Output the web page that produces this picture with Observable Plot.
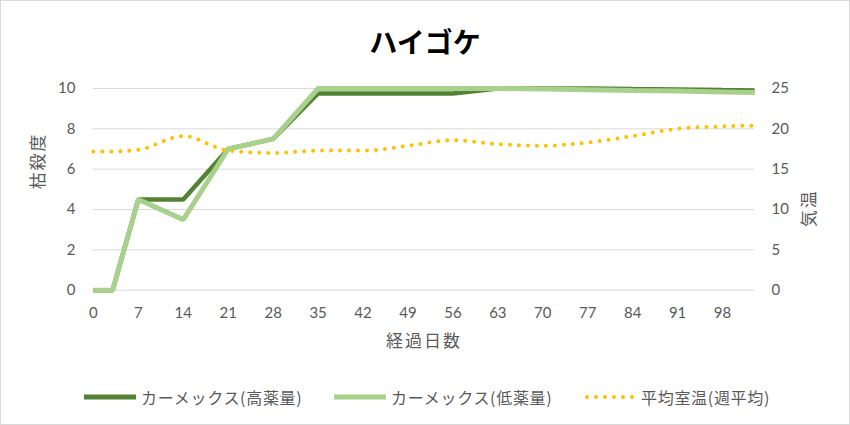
<!DOCTYPE html>
<html><head><meta charset="utf-8">
<script src="https://cdn.jsdelivr.net/npm/d3@7"></script>
<script src="https://cdn.jsdelivr.net/npm/@observablehq/plot@0.6"></script>
<style>
body{margin:0;background:#fff;font-family:"Noto Sans CJK JP","Noto Sans",sans-serif;}
#chart{position:relative;width:850px;height:425px;box-sizing:border-box;border:1px solid #d9d9d9;background:#fff;overflow:hidden}
#title{position:absolute;left:-1px;top:20px;width:850px;text-align:center;font-size:28px;font-weight:bold;color:#000;line-height:40px}
#plot{position:absolute;left:-1px;top:59px}
.leg{position:absolute;top:386px;height:20px;display:flex;align-items:center;font-size:16px;letter-spacing:0.7px;color:#595959;white-space:nowrap}
.leg svg{margin-right:5px}
</style></head><body>
<div id="chart">
  <div id="title"></div>
  <div id="plot"></div>
  <div id="legend"></div>
</div>
<script>
// ---- data ----
const chartTitle = "ハイゴケ";
const xLabel = "経過日数";
const yLeftLabel = "枯殺度";
const yRightLabel = "気温";
const seriesNames = ["カーメックス(高薬量)", "カーメックス(低薬量)", "平均室温(週平均)"];
const seriesColors = ["#548235", "#a9d18e", "#ffc000"];

const days      = [0, 3, 7, 14, 21, 28, 35, 42, 49, 56, 63, 70, 77, 84, 91, 98, 103];
const highDose  = [0, 0, 4.5, 4.5, 7, 7.5, 9.75, 9.75, 9.75, 9.75, 10, 10, 10, 9.97, 9.95, 9.92, 9.9];
const lowDose   = [0, 0, 4.5, 3.5, 7, 7.5, 10, 10, 10, 10, 10, 9.97, 9.94, 9.9, 9.87, 9.83, 9.8];
const tempWeekly= [17.2, 17.2, 17.4, 19.1, 17.3, 17.0, 17.3, 17.3, 17.9, 18.6, 18.1, 17.9, 18.3, 19.1, 20.0, 20.3, 20.4];

const xTicks = [0, 7, 14, 21, 28, 35, 42, 49, 56, 63, 70, 77, 84, 91, 98];
const xDomain = [0, 103];
const yLeftTicks = [0, 2, 4, 6, 8, 10];
const yLeftMax = 10;
const yRightTicks = [0, 5, 10, 15, 20, 25];
const yRightMax = 25;

// ---- build ----
const rows = days.map((d, i) => ({day: d, high: highDose[i], low: lowDose[i], temp: tempWeekly[i]}));
const toLeft = t => t * yLeftMax / yRightMax;

const tickFont = "Lato, 'Noto Sans', sans-serif";
const jpFont = "'Noto Sans CJK JP', sans-serif";

document.getElementById("title").textContent = chartTitle;

const plot = Plot.plot({
  width: 850, height: 300,
  marginTop: 28, marginBottom: 70, marginLeft: 93, marginRight: 95,
  style: {fontFamily: tickFont, fontSize: "15px", color: "#595959", background: "transparent", overflow: "visible"},
  x: {domain: xDomain},
  y: {domain: [0, yLeftMax]},
  marks: [
    Plot.gridY(yLeftTicks, {stroke: "#d9d9d9", strokeOpacity: 1, strokeWidth: 1}),
    Plot.axisX(xTicks, {tickSize: 0, tickPadding: 17, label: null, fill: "#595959"}),
    Plot.axisY(yLeftTicks, {anchor: "left", tickSize: 0, tickPadding: 18, label: null, fill: "#595959"}),
    Plot.axisY(yRightTicks.map(toLeft), {anchor: "right", tickSize: 0, tickPadding: 17, label: null, fill: "#595959",
      tickFormat: d => String(Math.round(d * yRightMax / yLeftMax))}),
    Plot.line(rows, {x: "day", y: "high", stroke: seriesColors[0], strokeWidth: 4.5, strokeLinejoin: "miter", strokeLinecap: "butt"}),
    Plot.line(rows, {x: "day", y: "low", stroke: seriesColors[1], strokeWidth: 5, strokeLinejoin: "miter", strokeLinecap: "butt"}),
    Plot.line(rows, {x: "day", y: d => toLeft(d.temp), stroke: seriesColors[2], strokeWidth: 4, strokeLinecap: "round", strokeDasharray: "0 9", curve: "monotone-x"}),
    Plot.text([xLabel], {text: d => d, frameAnchor: "bottom", dy: 57, fontFamily: jpFont, fontSize: 17, fill: "#595959"}),
    Plot.text([yLeftLabel], {text: d => d, frameAnchor: "left", dx: -55, rotate: -90, fontFamily: jpFont, fontSize: 17, fill: "#595959"}),
    Plot.text([yRightLabel], {text: d => d, frameAnchor: "right", dx: 55, rotate: -90, fontFamily: jpFont, fontSize: 17, fill: "#595959"})
  ]
});
d3.select(plot).selectAll("text").filter(function() {
  const t = this.textContent;
  return t === xLabel || t === yLeftLabel || t === yRightLabel;
}).style("letter-spacing", "2px");
document.getElementById("plot").appendChild(plot);

// legend
const legendX = [84, 334, 584];
const legend = document.getElementById("legend");
seriesNames.forEach((name, i) => {
  const item = document.createElement("div");
  item.className = "leg";
  item.style.left = (legendX[i] - 1) + "px";
  const dotted = i === 2;
  item.innerHTML = `<svg width="52" height="10"><line x1="${dotted ? 3 : 0}" x2="${dotted ? 50 : 52}" y1="5" y2="5" stroke="${seriesColors[i]}" stroke-width="${dotted ? 4 : 5}" stroke-linecap="${dotted ? "round" : "butt"}" ${dotted ? 'stroke-dasharray="0 9"' : ""}/></svg><span>${name}</span>`;
  legend.appendChild(item);
});
</script>
</body></html>
